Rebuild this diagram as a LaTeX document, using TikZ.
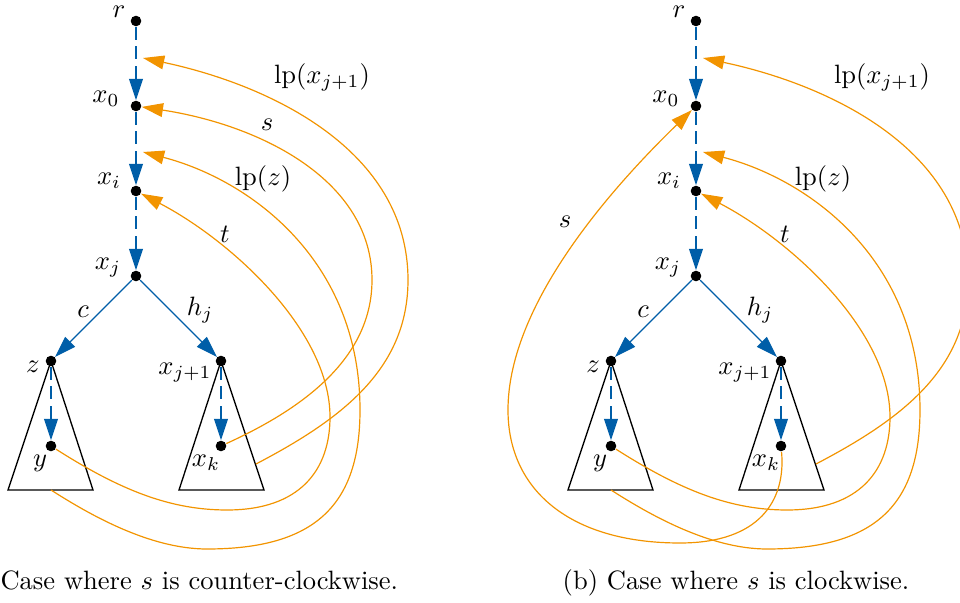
\documentclass[tikz,border=0pt]{standalone}
\usetikzlibrary{arrows.meta}
\definecolor{myblue}{RGB}{0,94,168}
\definecolor{myorange}{RGB}{242,148,0}
\tikzset{
  dot/.style={circle, fill=black, inner sep=0pt, minimum size=4pt},
  lab/.style={inner sep=0pt},
  tri/.style={draw=black, line width=0.5pt},
  bsolid/.style={draw=myblue, line width=0.45pt, -{Triangle[length=8pt,width=5.2pt]}},
  bdash/.style={bsolid, dash pattern=on 4.8pt off 2.6pt},
  oarr/.style={draw=myorange, line width=0.45pt, -{Triangle[length=8pt,width=5.2pt]}}
}
\begin{document}
\begin{tikzpicture}[x=0.377pt,y=-0.377pt]
\useasboundingbox (0,0) rectangle (960,603);
\foreach \p/\dx in {a/0,b/560}{
\begin{scope}[shift={(\dx,0)}]
  % subtrees
  \draw[tri] (51,361) -- (8,490) -- (93,490) -- cycle;
  \draw[tri] (221,361) -- (179,490) -- (264,490) -- cycle;
  % vertices
  \node[dot] (\p r)   at (136,21)  {};
  \node[dot] (\p x0)  at (136,106) {};
  \node[dot] (\p xi)  at (136,191) {};
  \node[dot] (\p xj)  at (136,276) {};
  \node[dot] (\p z)   at (51,361)  {};
  \node[dot] (\p xj1) at (221,361) {};
  \node[dot] (\p y)   at (51,446)  {};
  \node[dot] (\p xk)  at (221,446) {};
  \coordinate (\p m1) at (143,58);
  \coordinate (\p m2) at (143,152);
  \coordinate (\p A0) at (256,464);
  \coordinate (\p C0) at (51,490);
  % labels
  \node[lab] (\p Lr)   at (119,12)  {$r$};
  \node[lab] (\p Lx0)  at (106,99)  {$x_0$};
  \node[lab] (\p Lxi)  at (109,181) {$x_i$};
  \node[lab] (\p Lxj)  at (108,268) {$x_j$};
  \node[lab] (\p Lc)   at (83,312)  {$c$};
  \node[lab] (\p Lh)   at (200,310) {$h_j$};
  \node[lab] (\p Lz)   at (33,367)  {$z$};
  \node[lab] (\p Lxj1) at (185,373) {$x_{j+1}$};
  \node[lab] (\p Ly)   at (40,463)  {$y$};
  \node[lab] (\p Lxk)  at (206,463) {$x_k$};
  \node[lab] (\p Llpx) at (322,77)  {$\mathrm{lp}(x_{j+1})$};
  \node[lab] (\p Llpz) at (263,179) {$\mathrm{lp}(z)$};
  \node[lab] (\p Lt)   at (225,234) {$t$};
  % blue edges
  \draw[bdash] (\p r) -- (\p x0);
  \draw[bdash] (\p x0) -- (\p xi);
  \draw[bdash] (\p xi) -- (\p xj);
  \draw[bdash] (\p z) -- (\p y);
  \draw[bdash] (\p xj1) -- (\p xk);
  \draw[bsolid] (\p xj) -- (\p z);
  \draw[bsolid] (\p xj) -- (\p xj1);
  % orange arcs
  \draw[oarr] (\p A0) .. controls (340,420) and (408,370) .. (408,280)
              .. controls (408,150) and (270,85) .. (\p m1);
  \draw[oarr] (\p C0) .. controls (90,515) and (150,549) .. (207,549)
              .. controls (315,549) and (360,505) .. (360,410)
              .. controls (360,260) and (250,180) .. (\p m2);
  \draw[oarr] (\p y) .. controls (120,490) and (170,510) .. (227,510)
              .. controls (300,510) and (330,470) .. (330,417)
              .. controls (330,330) and (230,240) .. (\p xi);
\end{scope}
}
% s, counter-clockwise
\node[lab] (aLs) at (267,125) {$s$};
\draw[oarr] (axk) .. controls (300,410) and (372,360) .. (372,280)
            .. controls (372,180) and (260,125) .. (ax0);
% s, clockwise
\node[lab] (bLs) at (565,222) {$s$};
\draw[oarr] (bxk) .. controls (786,500) and (760,543) .. (680,543)
            .. controls (570,543) and (508,490) .. (508,410)
            .. controls (508,300) and (620,180) .. (bx0);
% captions
\node[lab, anchor=base west] (capa) at (0,590) {Case where $s$ is counter-clockwise.};
\node[lab, anchor=base] (capb) at (736,590) {(b) Case where $s$ is clockwise.};
\end{tikzpicture}
\end{document}
